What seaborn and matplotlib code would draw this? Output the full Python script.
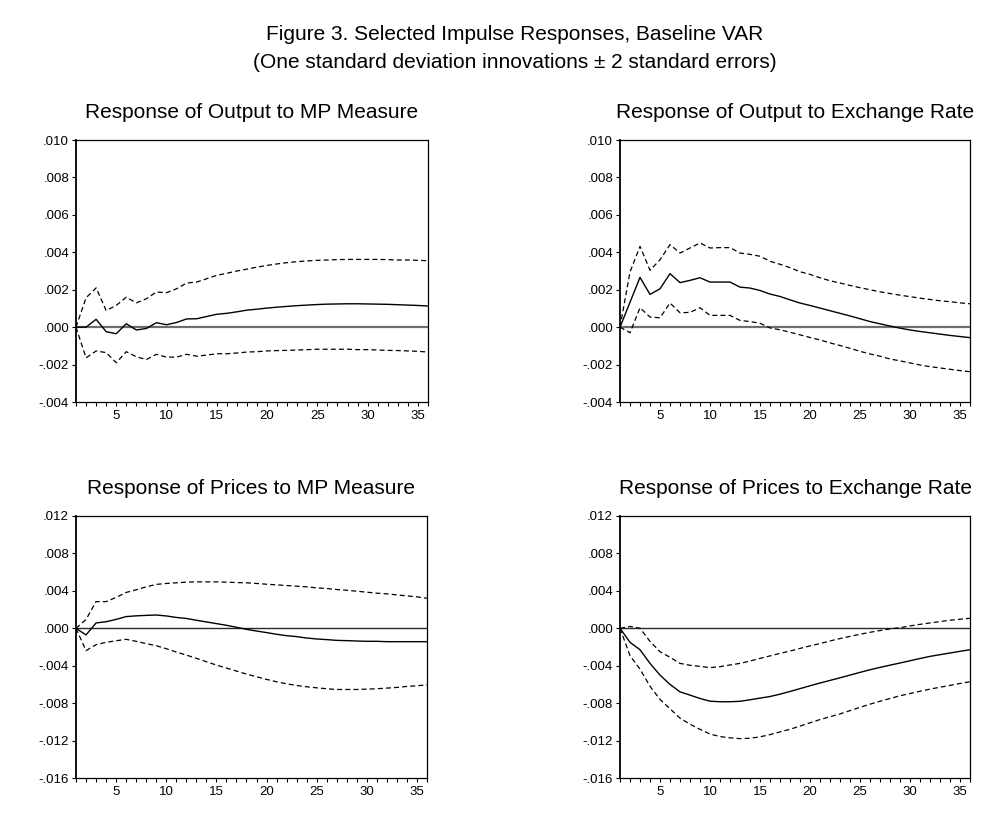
import numpy as np
import pandas as pd
import seaborn as sns
import matplotlib
matplotlib.use('Agg')
import matplotlib.pyplot as plt
from matplotlib.ticker import MultipleLocator, FuncFormatter

# impulse response values, in units of 0.001
periods = list(range(1, 37))

out_mp = [0, 0, 0.42, -0.24, -0.35, 0.18, -0.15, -0.07, 0.24, 0.13, 0.25, 0.44, 0.45, 0.57, 0.69, 0.74, 0.82, 0.91,
          0.96, 1.02, 1.07, 1.11, 1.15, 1.18, 1.21, 1.23, 1.24, 1.25, 1.25, 1.24, 1.23, 1.22, 1.2, 1.18, 1.16, 1.13]
out_mp_hi = [0, 1.57, 2.1, 0.89, 1.16, 1.6, 1.3, 1.52, 1.88, 1.84, 2.05, 2.36, 2.41, 2.59, 2.77, 2.88, 3.0, 3.1,
             3.21, 3.3, 3.38, 3.45, 3.5, 3.54, 3.57, 3.59, 3.61, 3.62, 3.62, 3.62, 3.62, 3.61, 3.59, 3.59, 3.57, 3.55]
out_mp_lo = [0, -1.64, -1.27, -1.36, -1.9, -1.31, -1.58, -1.73, -1.45, -1.6, -1.6, -1.45, -1.55, -1.49, -1.42, -1.42,
             -1.38, -1.33, -1.31, -1.27, -1.25, -1.24, -1.22, -1.2, -1.18, -1.18, -1.18, -1.18, -1.2, -1.2, -1.22,
             -1.24, -1.25, -1.27, -1.29, -1.33]

out_er = [0, 1.33, 2.66, 1.75, 2.05, 2.86, 2.38, 2.5, 2.64, 2.41, 2.41, 2.41, 2.14, 2.09, 1.96, 1.77, 1.64, 1.46,
          1.29, 1.16, 1.02, 0.88, 0.74, 0.6, 0.45, 0.3, 0.18, 0.06, -0.05, -0.15, -0.23, -0.3, -0.37, -0.44, -0.5, -0.56]
out_er_hi = [0, 2.95, 4.32, 3.04, 3.6, 4.41, 3.96, 4.23, 4.5, 4.23, 4.25, 4.25, 3.96, 3.89, 3.79, 3.52, 3.36, 3.18,
             2.96, 2.82, 2.64, 2.48, 2.36, 2.23, 2.11, 2.0, 1.89, 1.8, 1.71, 1.63, 1.55, 1.48, 1.41, 1.36, 1.3, 1.25]
out_er_lo = [0, -0.3, 1.04, 0.54, 0.5, 1.29, 0.77, 0.79, 1.04, 0.63, 0.63, 0.63, 0.36, 0.3, 0.21, -0.04, -0.14, -0.27,
             -0.41, -0.55, -0.68, -0.84, -0.98, -1.13, -1.29, -1.43, -1.55, -1.7, -1.8, -1.91, -2.02, -2.11, -2.18,
             -2.25, -2.32, -2.38]

prices_mp = [0, -0.71, 0.57, 0.7, 0.95, 1.25, 1.33, 1.38, 1.42, 1.32, 1.16, 1.05, 0.86, 0.68, 0.5, 0.32, 0.11, -0.11,
             -0.29, -0.46, -0.64, -0.79, -0.89, -1.04, -1.14, -1.21, -1.29, -1.32, -1.36, -1.39, -1.39, -1.43, -1.43,
             -1.43, -1.43, -1.43]
prices_mp_hi = [0, 0.94, 2.85, 2.85, 3.3, 3.83, 4.11, 4.43, 4.69, 4.79, 4.86, 4.93, 4.96, 4.96, 4.96, 4.93, 4.89, 4.86,
                4.79, 4.71, 4.64, 4.57, 4.5, 4.43, 4.32, 4.25, 4.14, 4.07, 3.96, 3.86, 3.75, 3.68, 3.57, 3.46, 3.36, 3.21]
prices_mp_lo = [0, -2.39, -1.75, -1.5, -1.33, -1.18, -1.39, -1.64, -1.86, -2.18, -2.54, -2.86, -3.21, -3.57, -3.93,
                -4.25, -4.57, -4.89, -5.18, -5.46, -5.71, -5.93, -6.11, -6.25, -6.36, -6.46, -6.54, -6.54, -6.54, -6.5,
                -6.46, -6.39, -6.32, -6.21, -6.14, -6.04]

prices_er = [0, -1.5, -2.29, -3.75, -5.0, -6.0, -6.79, -7.14, -7.5, -7.79, -7.85, -7.85, -7.8, -7.64, -7.46, -7.29,
             -7.04, -6.75, -6.45, -6.14, -5.85, -5.57, -5.29, -5.0, -4.71, -4.43, -4.18, -3.94, -3.71, -3.47, -3.23,
             -3.0, -2.82, -2.64, -2.46, -2.29]
prices_er_hi = [0, 0.2, 0.0, -1.4, -2.5, -3.1, -3.75, -3.95, -4.07, -4.2, -4.1, -3.92, -3.75, -3.5, -3.22, -2.95,
                -2.68, -2.43, -2.15, -1.88, -1.63, -1.35, -1.1, -0.86, -0.64, -0.43, -0.24, -0.07, 0.07, 0.25, 0.42,
                0.57, 0.72, 0.86, 0.97, 1.07]
prices_er_lo = [0, -2.93, -4.36, -6.2, -7.6, -8.6, -9.6, -10.25, -10.8, -11.3, -11.57, -11.71, -11.79, -11.75, -11.6,
                -11.36, -11.07, -10.79, -10.45, -10.1, -9.75, -9.45, -9.15, -8.8, -8.45, -8.11, -7.8, -7.5, -7.21,
                -6.97, -6.73, -6.5, -6.3, -6.1, -5.9, -5.71]

titles = ['Response of Output to MP Measure', 'Response of Output to Exchange Rate',
          'Response of Prices to MP Measure', 'Response of Prices to Exchange Rate']

sns.set_style('ticks')
plt.rcParams['font.family'] = ['Liberation Sans', 'DejaVu Sans']
plt.rcParams['text.color'] = 'black'
plt.rcParams['xtick.color'] = 'black'
plt.rcParams['ytick.color'] = 'black'


def eviews_fmt(v, pos):
    s = '%.3f' % v
    if s == '-0.000':
        s = '0.000'
    return s.replace('0.', '.', 1)


fig = plt.figure(figsize=(9.96, 8.14), dpi=100)

panels = [
    (titles[0], out_mp, out_mp_hi, out_mp_lo, (-0.004, 0.010), 0.002, [0.0763, 0.5061, 0.3534, 0.3219], True),
    (titles[1], out_er, out_er_hi, out_er_lo, (-0.004, 0.010), 0.002, [0.6225, 0.5061, 0.3514, 0.3219], True),
    (titles[2], prices_mp, prices_mp_hi, prices_mp_lo, (-0.016, 0.012), 0.004, [0.0763, 0.0442, 0.3524, 0.3219], False),
    (titles[3], prices_er, prices_er_hi, prices_er_lo, (-0.016, 0.012), 0.004, [0.6225, 0.0442, 0.3514, 0.3219], False),
]

for title, mid, hi, lo, ylim, step, rect, top_row in panels:
    ax = fig.add_axes(rect)
    df = pd.DataFrame({'period': periods,
                       'resp': np.array(mid) / 1000,
                       'upper': np.array(hi) / 1000,
                       'lower': np.array(lo) / 1000})

    if top_row:
        ax.axhline(0, color='#6e6e6e', lw=1.6, zorder=1)
    else:
        ax.axhline(0, color='#2a2a2a', lw=1.0, zorder=1)

    sns.lineplot(data=df, x='period', y='upper', ax=ax, color='black', lw=0.9, linestyle=(0, (4, 2.5)))
    sns.lineplot(data=df, x='period', y='lower', ax=ax, color='black', lw=0.9, linestyle=(0, (4, 2.5)))
    sns.lineplot(data=df, x='period', y='resp', ax=ax, color='black', lw=1.0)

    ax.set_xlim(1, 36)
    ax.set_ylim(*ylim)
    ax.xaxis.set_major_locator(MultipleLocator(5))
    ax.xaxis.set_minor_locator(MultipleLocator(1))
    ax.yaxis.set_major_locator(MultipleLocator(step))
    ax.yaxis.set_major_formatter(FuncFormatter(eviews_fmt))
    ax.tick_params(axis='both', which='both', direction='out', length=3, width=0.8,
                   labelsize=9.5, pad=2, color='black', labelcolor='black')
    ax.tick_params(axis='x', which='major', pad=3)
    ax.set_xlabel('')
    ax.set_ylabel('')
    for sp in ax.spines.values():
        sp.set_visible(True)
        sp.set_color('black')
        sp.set_linewidth(0.9)
    ax.spines['left'].set_linewidth(1.3)
    ax.set_title(title, fontsize=15, pad=16, color='black')

fig.text(0.517, 1 - 35 / 814, 'Figure 3. Selected Impulse Responses, Baseline VAR',
         ha='center', va='center', fontsize=15, color='black')
fig.text(0.517, 1 - 62 / 814, '(One standard deviation innovations \u00b1 2 standard errors)',
         ha='center', va='center', fontsize=15, color='black')

fig.savefig('out.png', dpi=100, facecolor='white')
